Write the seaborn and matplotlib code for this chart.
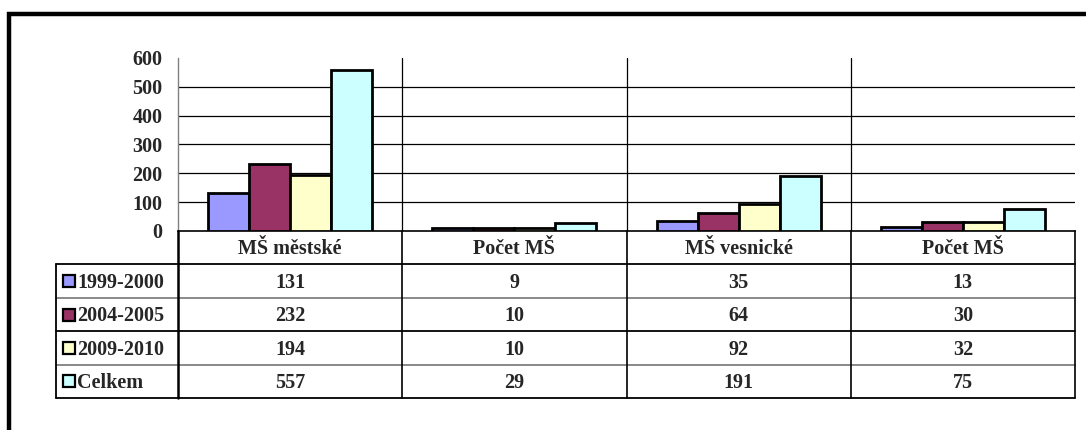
import numpy as np
import pandas as pd
import matplotlib
matplotlib.use('Agg')
import matplotlib.pyplot as plt
import seaborn as sns
from matplotlib.patches import Rectangle

"""bar chart of MS counts with an excel style data table below"""

categories = ['MŠ městské', 'Počet MŠ', 'MŠ vesnické', 'Počet MŠ']
series = ['1999-2000', '2004-2005', '2009-2010', 'Celkem']
v_1999 = [131, 9, 35, 13]
v_2004 = [232, 10, 64, 30]
v_2009 = [194, 10, 92, 32]
v_celkem = [557, 29, 191, 75]
colors = ['#9999FF', '#993366', '#FFFFCC', '#CCFFFF']
yticks = [0, 100, 200, 300, 400, 500, 600]

FONT = 'Liberation Serif'
FS = 14.5


def main():
    values = [v_1999, v_2004, v_2009, v_celkem]
    rows = []
    for s, vals in zip(series, values):
        for i, v in enumerate(vals):
            rows.append({'idx': i, 'obdobi': s, 'pocet': v})
    df = pd.DataFrame(rows)

    sns.set_style('white')
    plt.rcParams['font.family'] = [FONT, 'DejaVu Serif']
    plt.rcParams['font.weight'] = 'bold'

    W, H = 1086, 430
    fig = plt.figure(figsize=(W / 100, H / 100), dpi=100)

    # pixel layout of plot area
    px_l, px_r, px_t, px_b = 178, 1075, 58, 231
    ax = fig.add_axes([px_l / W, 1 - px_b / H, (px_r - px_l) / W, (px_b - px_t) / H])
    sns.barplot(data=df, x='idx', y='pocet', hue='obdobi', hue_order=series,
                palette=colors, width=0.732, edgecolor='black', linewidth=2,
                saturation=1, legend=False, ax=ax, zorder=3)
    ax.set_xlim(-0.5, len(categories) - 0.5)
    ax.set_ylim(0, 600)
    ax.set_yticks(yticks)
    ax.set_yticklabels([str(t) for t in yticks], fontsize=FS, fontweight='bold', family=FONT)
    ax.set_xticks([])
    ax.set_xlabel('')
    ax.set_ylabel('')
    for t in yticks[1:-1]:
        ax.axhline(t, color='black', lw=0.9, zorder=1)
    for b in np.arange(0.5, len(categories) - 0.5, 1):
        ax.axvline(b, color='black', lw=0.9, zorder=1)
    ax.tick_params(axis='y', length=5, width=1, color='#808080', direction='out', pad=6)
    for s in ['top', 'right']:
        ax.spines[s].set_visible(False)
    ax.spines['left'].set_color('#808080')
    ax.spines['bottom'].set_color('black')
    ax.spines['left'].set_linewidth(1)
    ax.spines['bottom'].set_linewidth(1.2)
    ax.set_facecolor('none')

    # data table
    tb_l, tb_b = 56, 398
    tax = fig.add_axes([tb_l / W, 1 - tb_b / H, (px_r - tb_l) / W, (tb_b - px_b) / H])
    cat_px = (px_r - px_l) / len(categories)
    x0 = -0.5 - (px_l - tb_l) / cat_px
    n = len(categories)
    tax.set_xlim(x0, n - 0.5)
    tax.set_ylim(len(series) + 1, 0)
    tax.axis('off')

    for i, c in enumerate(categories):
        tax.text(i, 0.55, c, ha='center', va='center', fontsize=FS, fontweight='bold', family=FONT)
    for r, (s, vals) in enumerate(zip(series, values)):
        y = r + 1.55
        for i, v in enumerate(vals):
            tax.text(i, y, str(v), ha='center', va='center', fontsize=FS, fontweight='bold', family=FONT)
        tax.plot(x0 + 12.5 / cat_px, r + 1.5, marker='s', ms=9, mfc=colors[r], mec='black', mew=1.6)
        tax.text(x0 + 21 / cat_px, y, s, ha='left', va='center', fontsize=FS, fontweight='bold', family=FONT)

    line_col = {1: 'black', 2: '#808080', 3: 'black', 4: '#808080', 5: 'black'}
    for y, col in line_col.items():
        tax.plot([x0, n - 0.5], [y, y], color=col, lw=1.3, clip_on=False)
    tax.plot([x0, x0], [1, 5], color='black', lw=1.3, clip_on=False)
    for b in np.arange(-0.5, n, 1):
        lw = 1.8 if b == -0.5 else 1.2
        tax.plot([b, b], [0, 5], color='black', lw=lw, clip_on=False)

    # outer frame, cut off at right and bottom like in the source
    fig.patches.append(Rectangle((9 / W, -0.05), 1.05, 1 - 13.5 / H + 0.05, transform=fig.transFigure,
                                 fill=False, edgecolor='black', lw=3.2, clip_on=False))

    plt.savefig('out.png', dpi=100)
    plt.close()


main()
